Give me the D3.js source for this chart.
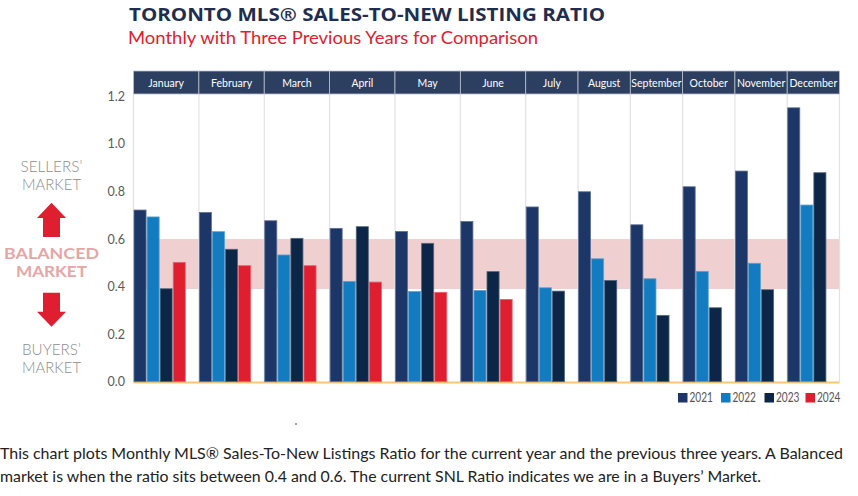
<!DOCTYPE html>
<html><head><meta charset="utf-8">
<script src="https://cdn.jsdelivr.net/npm/d3@7"></script>
<style>body{margin:0;background:#fff}svg{display:block}</style>
</head><body>
<svg id="c" width="858" height="496"></svg>
<script>
const months = ["January","February","March","April","May","June","July","August","September","October","November","December"];
const years = ["2021","2022","2023","2024"];
const v2021 = [0.722,0.712,0.677,0.645,0.632,0.674,0.735,0.799,0.660,0.820,0.886,1.152];
const v2022 = [0.693,0.631,0.533,0.422,0.379,0.384,0.395,0.517,0.433,0.464,0.498,0.743];
const v2023 = [0.391,0.557,0.603,0.652,0.582,0.463,0.381,0.426,0.279,0.311,0.387,0.879];
const v2024 = [0.502,0.488,0.488,0.419,0.376,0.346];
const yTicks = [0.0,0.2,0.4,0.6,0.8,1.0,1.2];
const balanced = [0.39,0.6];
const colors = {"2021":"#1c3767","2022":"#137bbf","2023":"#0b2647","2024":"#df1f2f"};
const series = {"2021":v2021,"2022":v2022,"2023":v2023,"2024":v2024};

const svg = d3.select("#c");
const font = "Lato, 'Open Sans', sans-serif";

// slots: for each month, one per year with data, plus a gap slot
const slots = [];
months.forEach((m,i)=>{
  years.forEach(y=>{ if (series[y][i] !== undefined) slots.push(m+"|"+y); });
  slots.push(m+"|gap");
});
const x = d3.scaleBand().domain(slots).range([133.5,839.5]).paddingInner(0).paddingOuter(0);
const y = d3.scaleLinear().domain([0,1.2]).range([381.7,96.4]);

// month extents
const mExt = months.map(m=>{
  const s = slots.filter(k=>k.startsWith(m+"|"));
  return {m, x0:x(s[0]), x1:x(s[s.length-1])+x.bandwidth()};
});

// balanced band
svg.append("rect").attr("x",x.range()[0]).attr("width",x.range()[1]-x.range()[0])
  .attr("y",y(balanced[1])).attr("height",y(balanced[0])-y(balanced[1])).attr("fill","#efcfcf");

// grid lines
svg.append("g").selectAll("line").data([mExt[0].x0].concat(mExt.map(d=>d.x1))).join("line")
  .attr("x1",d=>d).attr("x2",d=>d).attr("y1",94).attr("y2",y(0))
  .attr("stroke","#e2e2e2").attr("stroke-width",1.2);

// baseline
svg.append("line").attr("x1",x.range()[0]).attr("x2",x.range()[1]).attr("y1",y(0)+0.8).attr("y2",y(0)+0.8)
  .attr("stroke","#f6c878").attr("stroke-width",2);

// bars
const bars = [];
years.forEach(yr=>series[yr].forEach((v,i)=>bars.push({m:months[i],yr,v})));
svg.append("g").selectAll("rect").data(bars).join("rect")
  .attr("x",d=>x(d.m+"|"+d.yr)+0.5).attr("width",x.bandwidth()-1)
  .attr("y",d=>y(d.v)).attr("height",d=>y(0)-y(d.v))
  .attr("fill",d=>colors[d.yr])
  .attr("stroke",d=>d3.interpolateRgb(colors[d.yr],"#ffffff")(0.3)).attr("stroke-width",0.8);

// header
const hdr = svg.append("g");
hdr.selectAll("rect").data(mExt).join("rect")
  .attr("x",d=>d.x0).attr("width",d=>d.x1-d.x0).attr("y",71).attr("height",23)
  .attr("fill","#2c3f60").attr("stroke","#b9c0cc").attr("stroke-width",0.8);
hdr.selectAll("text").data(mExt).join("text")
  .attr("x",d=>(d.x0+d.x1)/2).attr("y",86.5).attr("text-anchor","middle")
  .attr("fill","#ffffff").attr("font-family",font).attr("font-size",10.5).text(d=>d.m);

// y axis labels
const yAxis = d3.axisLeft(y).tickValues(yTicks).tickFormat(d3.format(".1f")).tickSize(0).tickPadding(0);
const ya = svg.append("g").attr("transform","translate(125,0)").call(yAxis);
ya.select(".domain").remove();
ya.selectAll("text").attr("font-family",font).attr("font-size",12.5).attr("fill","#5a5a5a");

// titles
svg.append("text").attr("x",129).attr("y",21).attr("font-family","'Open Sans', Lato, sans-serif")
  .attr("font-weight",700).attr("font-size",17).attr("fill","#1f2e4e")
  .attr("textLength",476).attr("lengthAdjust","spacingAndGlyphs")
  .text("TORONTO MLS® SALES-TO-NEW LISTING RATIO");
svg.append("text").attr("x",128).attr("y",43.5).attr("font-family",font)
  .attr("font-size",17).attr("fill","#e0202f")
  .attr("textLength",410).attr("lengthAdjust","spacingAndGlyphs")
  .text("Monthly with Three Previous Years for Comparison");

// left annotation
const ann = svg.append("g").attr("font-family",font).attr("text-anchor","middle");
function t(txt,yy,w,opts){
  const e = ann.append("text").attr("x",51.5).attr("y",yy).attr("font-size",16)
    .attr("textLength",w).attr("lengthAdjust","spacingAndGlyphs").text(txt);
  Object.entries(opts).forEach(([k,v])=>e.attr(k,v));
}
const grey = {"fill":"#8d8d8d","font-weight":300};
t("SELLERS’",171.8,62,grey);
t("MARKET",190,59,grey);
t("BUYERS’",355,59,grey);
t("MARKET",373.4,59,grey);
const pink = {"fill":"#e7a6a6","font-weight":700};
t("BALANCED",259.2,95,pink);
t("MARKET",277.4,71,pink);
// arrows
svg.append("path").attr("fill","#df1f2f")
  .attr("d","M51.5,202.7 L66,218 L60,218 L60,237 L43,237 L43,218 L37,218 Z");
svg.append("path").attr("fill","#df1f2f")
  .attr("d","M43,292.7 L60,292.7 L60,311.7 L66,311.7 L51.5,326.7 L37,311.7 L43,311.7 Z");

// legend
const legX = [678,721,764.5,805.5];
const lg = svg.append("g").selectAll("g").data(years).join("g")
  .attr("transform",(d,i)=>`translate(${legX[i]},393)`);
lg.append("rect").attr("width",9.5).attr("height",9.5).attr("fill",d=>colors[d]);
lg.append("text").attr("x",11.5).attr("y",9.3).attr("font-family",font).attr("font-size",12.5)
  .attr("fill","#555").attr("textLength",23.5).attr("lengthAdjust","spacingAndGlyphs").text(d=>d);

// stray dot
svg.append("circle").attr("cx",296).attr("cy",424).attr("r",0.9).attr("fill","#777");

// footer text
svg.append("text").attr("x",0).attr("y",458.5).attr("font-family",font).attr("font-size",15)
  .attr("fill","#222").attr("textLength",843).attr("lengthAdjust","spacingAndGlyphs")
  .text("This chart plots Monthly MLS® Sales-To-New Listings Ratio for the current year and the previous three years. A Balanced");
svg.append("text").attr("x",0).attr("y",481.5).attr("font-family",font).attr("font-size",15)
  .attr("fill","#222").attr("textLength",761).attr("lengthAdjust","spacingAndGlyphs")
  .text("market is when the ratio sits between 0.4 and 0.6. The current SNL Ratio indicates we are in a Buyers’ Market.");
</script>
</body></html>
